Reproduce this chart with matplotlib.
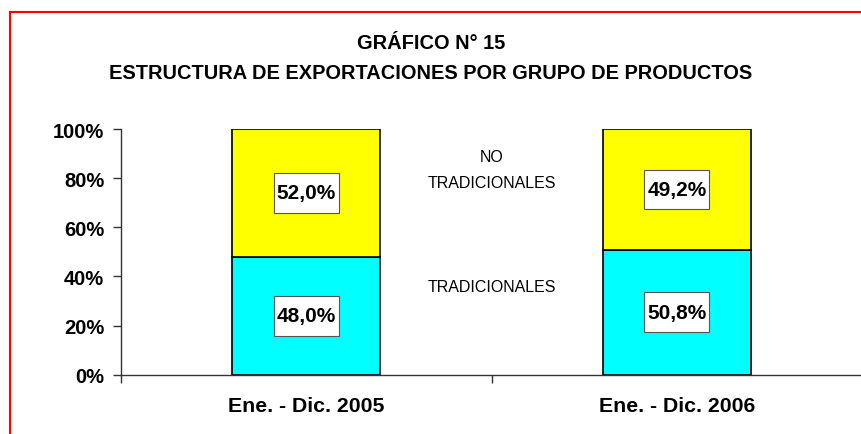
import matplotlib.pyplot as plt
from matplotlib.lines import Line2D
from matplotlib.path import Path

plt.rcParams['font.family'] = ['Liberation Sans', 'DejaVu Sans']

periodos = ['Ene. - Dic. 2005', 'Ene. - Dic. 2006']
tradicionales = [48.0, 50.8]
no_tradicionales = [52.0, 49.2]
y_ticks = [0, 20, 40, 60, 80, 100]

fig = plt.figure(figsize=(8.62, 4.35), dpi=100)
ax = fig.add_axes([0.1404, 0.1363, 0.8596, 0.5648])

x = list(range(len(periodos)))
ax.bar(x, tradicionales, width=0.4, color='#00FFFF', edgecolor='black', linewidth=1.2)
ax.bar(x, no_tradicionales, width=0.4, bottom=tradicionales, color='#FFFF00',
       edgecolor='black', linewidth=1.2)


def caja(x0, y0, width, height, mutation_size):
    # caja rectangular con mas relleno vertical que horizontal
    px = 0.14 * mutation_size
    py = 0.5 * mutation_size
    x0, x1 = x0 - px, x0 + width + px
    y0, y1 = y0 - py, y0 + height + py
    return Path([(x0, y0), (x1, y0), (x1, y1), (x0, y1), (x0, y0)], closed=True)


def etiqueta(xv, yv, valor):
    ax.text(xv, yv, '{:.1f}%'.format(valor).replace('.', ','), ha='center', va='center',
            fontsize=15, fontweight='bold',
            bbox=dict(boxstyle=caja, facecolor='white', edgecolor='#555555', linewidth=0.8))


for i in x:
    etiqueta(i, tradicionales[i] / 2, tradicionales[i])
    etiqueta(i, tradicionales[i] + no_tradicionales[i] / 2, no_tradicionales[i])

ax.text(0.5, 83.5, 'NO\nTRADICIONALES', ha='center', va='center', fontsize=11.5, linespacing=1.9)
ax.text(0.5, 35.7, 'TRADICIONALES', ha='center', va='center', fontsize=11.5)

ax.set_xlim(-0.5, 1.5)
ax.set_ylim(0, 100)
ax.set_yticks(y_ticks)
ax.set_yticklabels(['{}%'.format(v) for v in y_ticks], fontsize=14.5, fontweight='bold')
ax.set_xticks([-0.5, 0.5, 1.5])
ax.set_xticklabels([])
ax.set_xticks(x, minor=True)
ax.set_xticklabels(periodos, minor=True, fontsize=15.3, fontweight='bold')
ax.tick_params(axis='x', which='minor', length=0, pad=15)
ax.tick_params(axis='both', which='major', length=6, width=1, color='#333333', direction='out')
ax.tick_params(axis='y', pad=6)

for s in ['top', 'right']:
    ax.spines[s].set_visible(False)
for s in ['left', 'bottom']:
    ax.spines[s].set_color('#333333')
    ax.spines[s].set_linewidth(1)

fig.text(0.5, 0.901, 'GRÁFICO N° 15', ha='center', va='center', fontsize=14.4, fontweight='bold')
fig.text(0.5, 0.832, 'ESTRUCTURA DE EXPORTACIONES POR GRUPO DE PRODUCTOS', ha='center', va='center',
         fontsize=14.4, fontweight='bold')

# marco rojo (solo arriba e izquierda, recortado)
fig.add_artist(Line2D([10 / 862, 10 / 862], [0, 1 - 13 / 435], transform=fig.transFigure, color='red', lw=1.5))
fig.add_artist(Line2D([10 / 862, 1], [1 - 13 / 435, 1 - 13 / 435], transform=fig.transFigure, color='red', lw=1.5))

fig.savefig('out.png', dpi=100)
